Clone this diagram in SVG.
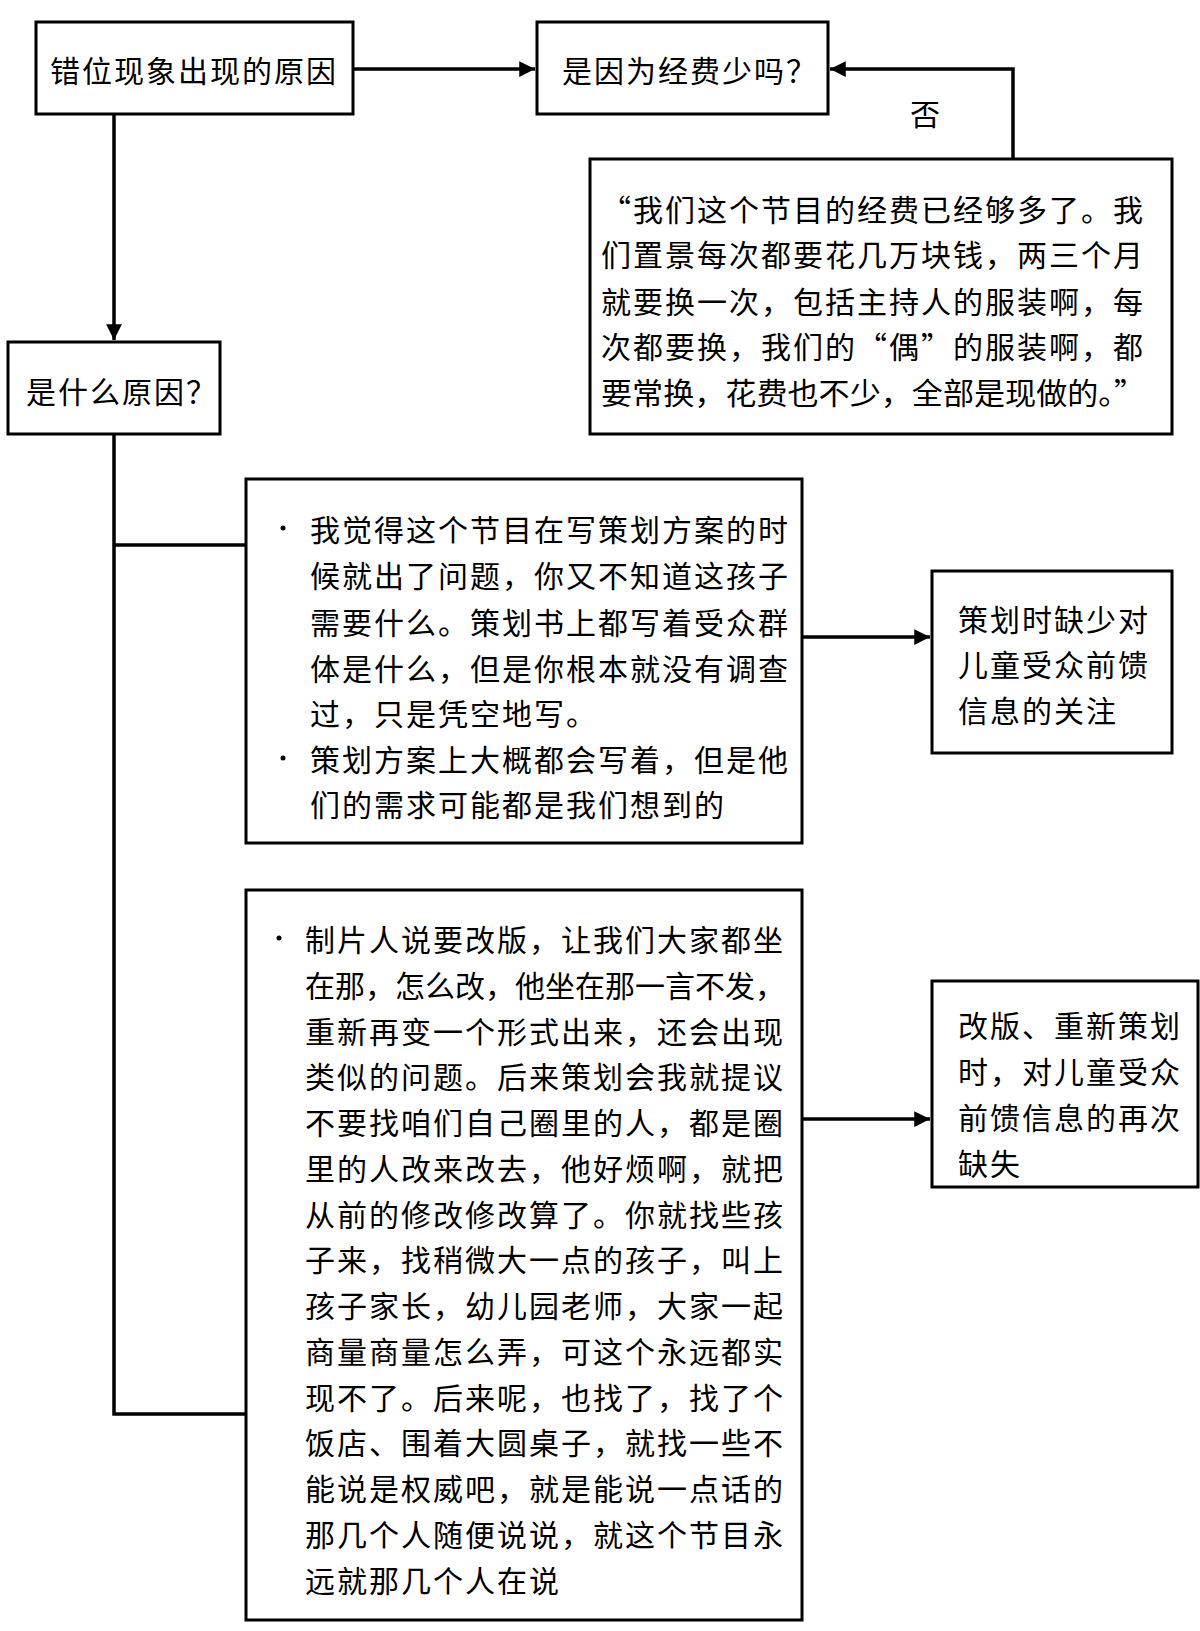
<svg xmlns="http://www.w3.org/2000/svg" width="1200" height="1631" viewBox="0 0 1200 1631">
<style>
.box{fill:#fff;stroke:#000;stroke-width:3}
.t{font-family:"Noto Sans CJK SC","Noto Sans CJK JP",sans-serif;font-size:30px;fill:#000;letter-spacing:2px;dominant-baseline:central}
.f{letter-spacing:0px}
.c{fill:none;stroke:#000;stroke-width:3.5}
</style>
<defs>
<marker id="ah" viewBox="0 0 10 10" refX="10" refY="5" markerWidth="4.5" markerHeight="4.5" markerUnits="strokeWidth" orient="auto">
<path d="M0,0 L10,5 L0,10 z" fill="#000"/>
</marker>
</defs>
<rect width="1200" height="1631" fill="#fff"/>
<g id="connectors">
<line class="c" x1="353" y1="69" x2="535" y2="69" marker-end="url(#ah)"/>
<polyline class="c" points="1013,159 1013,69 830,69" marker-end="url(#ah)"/>
<line class="c" x1="114" y1="114" x2="114" y2="340" marker-end="url(#ah)"/>
<polyline class="c" points="114,434 114,1414 246,1414"/>
<line class="c" x1="114" y1="545" x2="246" y2="545"/>
<line class="c" x1="802" y1="637" x2="930" y2="637" marker-end="url(#ah)"/>
<line class="c" x1="802" y1="1119" x2="930" y2="1119" marker-end="url(#ah)"/>
<text class="t" x="910" y="112">否</text>
</g>
<g id="n1">
<rect class="box" x="36" y="22" width="317" height="92"/>
<text class="t" x="50" y="69">错位现象出现的原因</text>
</g>
<g id="n2">
<rect class="box" x="537" y="22" width="291" height="92"/>
<text class="t" x="562" y="69">是因为经费少吗？</text>
</g>
<g id="n3">
<rect class="box" x="590" y="159" width="582" height="275"/>
<text class="t" x="601" y="208">“我们这个节目的经费已经够多了。我</text>
<text class="t" x="601" y="253">们置景每次都要花几万块钱，两三个月</text>
<text class="t" x="601" y="300">就要换一次，包括主持人的服装啊，每</text>
<text class="t" x="601" y="345">次都要换，我们的“偶”的服装啊，都</text>
<text class="t f" x="601" y="391" textLength="544" lengthAdjust="spacingAndGlyphs">要常换，花费也不少，全部是现做的。”</text>
</g>
<g id="n4">
<rect class="box" x="8" y="342" width="212" height="92"/>
<text class="t" x="26" y="390">是什么原因？</text>
</g>
<g id="n5">
<rect class="box" x="246" y="479" width="556" height="364"/>
<circle cx="283" cy="528" r="2.5" fill="#000"/>
<text class="t" x="310" y="528">我觉得这个节目在写策划方案的时</text>
<text class="t" x="310" y="574">候就出了问题，你又不知道这孩子</text>
<text class="t" x="310" y="621">需要什么。策划书上都写着受众群</text>
<text class="t" x="310" y="667">体是什么，但是你根本就没有调查</text>
<text class="t" x="310" y="712">过，只是凭空地写。</text>
<circle cx="283" cy="758" r="2.5" fill="#000"/>
<text class="t" x="310" y="758">策划方案上大概都会写着，但是他</text>
<text class="t" x="310" y="803">们的需求可能都是我们想到的</text>
</g>
<g id="n6">
<rect class="box" x="932" y="571" width="240" height="182"/>
<text class="t" x="958" y="618">策划时缺少对</text>
<text class="t" x="958" y="663">儿童受众前馈</text>
<text class="t" x="958" y="709">信息的关注</text>
</g>
<g id="n7">
<rect class="box" x="246" y="890" width="556" height="730"/>
<circle cx="279" cy="938" r="2.5" fill="#000"/>
<text class="t" x="305" y="938">制片人说要改版，让我们大家都坐</text>
<text class="t f" x="305" y="984" textLength="480" lengthAdjust="spacingAndGlyphs">在那，怎么改，他坐在那一言不发，</text>
<text class="t" x="305" y="1030">重新再变一个形式出来，还会出现</text>
<text class="t" x="305" y="1075">类似的问题。后来策划会我就提议</text>
<text class="t" x="305" y="1121">不要找咱们自己圈里的人，都是圈</text>
<text class="t" x="305" y="1167">里的人改来改去，他好烦啊，就把</text>
<text class="t" x="305" y="1213">从前的修改修改算了。你就找些孩</text>
<text class="t" x="305" y="1258">子来，找稍微大一点的孩子，叫上</text>
<text class="t" x="305" y="1304">孩子家长，幼儿园老师，大家一起</text>
<text class="t" x="305" y="1350">商量商量怎么弄，可这个永远都实</text>
<text class="t" x="305" y="1396">现不了。后来呢，也找了，找了个</text>
<text class="t" x="305" y="1441">饭店、围着大圆桌子，就找一些不</text>
<text class="t" x="305" y="1487">能说是权威吧，就是能说一点话的</text>
<text class="t" x="305" y="1533">那几个人随便说说，就这个节目永</text>
<text class="t" x="305" y="1579">远就那几个人在说</text>
</g>
<g id="n8">
<rect class="box" x="932" y="981" width="266" height="206"/>
<text class="t" x="958" y="1024">改版、重新策划</text>
<text class="t" x="958" y="1070">时，对儿童受众</text>
<text class="t" x="958" y="1116">前馈信息的再次</text>
<text class="t" x="958" y="1162">缺失</text>
</g>
</svg>
